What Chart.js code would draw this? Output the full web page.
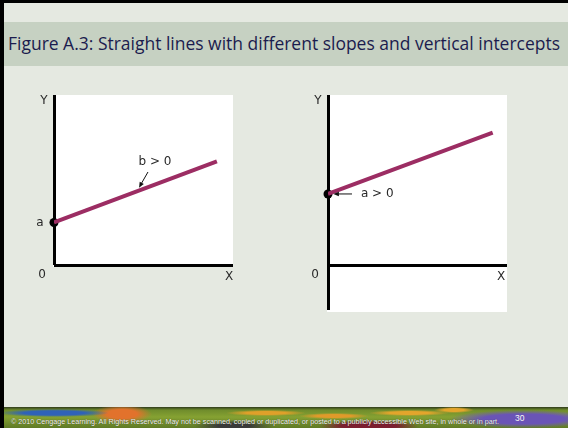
<!DOCTYPE html>
<html>
<head>
<meta charset="utf-8">
<script src="https://cdn.jsdelivr.net/npm/chart.js@4.4.0/dist/chart.umd.min.js"></script>
<style>
  html, body { margin: 0; padding: 0; }
  body { width: 568px; height: 428px; position: relative; overflow: hidden; background: #e5e9e1; }
  #frameTop { position: absolute; left: 0; top: 0; width: 568px; height: 3px; background: #000; }
  #frameLeft { position: absolute; left: 0; top: 0; width: 4px; height: 428px; background: #000; }
  #band { position: absolute; left: 4px; top: 22px; width: 564px; height: 44px; background: #c6d1c2; }
  #title { position: absolute; left: 8px; top: 35px; font-family: 'Open Sans', sans-serif; font-size: 17.5px;
           line-height: 17px; color: #1b1c4e; white-space: nowrap; transform-origin: 0 0; }
  .box { position: absolute; }
  #footer { position: absolute; left: 4px; top: 407px; width: 564px; height: 21px; overflow: hidden;
    background:
      radial-gradient(ellipse 55px 4px at 50px 6px, #2f62b8 55%, rgba(47,98,184,0) 100%),
      radial-gradient(ellipse 30px 9px at 118px 7px, #e2722c 50%, rgba(226,114,44,0) 100%),
      radial-gradient(ellipse 40px 3px at 262px 6px, #e0a02a 50%, rgba(224,160,42,0) 100%),
      radial-gradient(ellipse 35px 3px at 330px 9px, #e09a2a 50%, rgba(224,154,42,0) 100%),
      radial-gradient(ellipse 40px 3px at 405px 6px, #e3a52c 50%, rgba(227,165,44,0) 100%),
      radial-gradient(ellipse 20px 3px at 450px 3px, #e3a52c 50%, rgba(227,165,44,0) 100%),
      radial-gradient(ellipse 75px 9px at 520px 12px, #6a54b6 55%, rgba(106,84,182,0) 100%),
      radial-gradient(ellipse 50px 6px at 365px 19px, #7c1f30 55%, rgba(124,31,48,0) 100%),
      radial-gradient(ellipse 40px 6px at 230px 19px, #3a3a3a 40%, rgba(58,58,58,0) 100%),
      linear-gradient(#2f3a1c 0px, #6f8c2c 3px, #86a232 10px, #5f7a26 21px);
  }
  #copy { position: absolute; left: 7px; top: 10px; font-family: 'Liberation Sans', Arial, sans-serif;
          font-size: 7.8px; line-height: 9px; color: #f8f8f4; white-space: nowrap; transform-origin: 0 0;
          text-shadow: 0 0 1px rgba(0,0,0,0.7); }
  #page { position: absolute; left: 511px; top: 7px; font-family: 'Liberation Sans', Arial, sans-serif;
          font-size: 8.5px; line-height: 9px; color: #f8f8f4; }
</style>
</head>
<body>
<div id="frameTop"></div>
<div id="frameLeft"></div>
<div id="band"></div>
<div id="title">Figure A.3: Straight lines with different slopes and vertical intercepts</div>

<div class="box" style="left:20px; top:85px;"><canvas id="chartA" width="230" height="210"></canvas></div>
<div class="box" style="left:290px; top:85px;"><canvas id="chartB" width="230" height="240"></canvas></div>

<div id="footer">
  <div id="copy">© 2010 Cengage Learning. All Rights Reserved. May not be scanned, copied or duplicated, or posted to a publicly accessible Web site, in whole or in part.</div>
  <div id="page">30</div>
</div>

<script>
// left panel: line with positive slope b, intercept a
const lineXA = [0, 9.1];
const lineYA = [2.5, 6.1];
const rangeXA = [0, 10];
const rangeYA = [0, 10];

// right panel: same slope, positive intercept, y axis runs below zero
const lineXB = [0, 9.2];
const lineYB = [4.2, 7.8];
const rangeXB = [0, 10];
const rangeYB = [-2.6, 10];

const purple = '#9c2d63';
const labelFont = '12px "DejaVu Sans", sans-serif';

function toPoints(xs, ys) {
  return xs.map((x, i) => ({ x: x, y: ys[i] }));
}

// white plot area behind everything, notes and arrows on top
const sketchMarks = {
  id: 'sketchMarks',
  beforeDraw(chart) {
    const a = chart.chartArea, c = chart.ctx;
    c.save();
    c.fillStyle = '#fff';
    c.fillRect(a.left - 1, a.top, a.right - a.left + 1, a.bottom - a.top + 2);
    c.restore();
  },
  afterDraw(chart, args, opts) {
    const c = chart.ctx, sx = chart.scales.x, sy = chart.scales.y;
    c.save();
    c.font = labelFont;
    c.fillStyle = '#2a2a2a';
    c.textBaseline = 'middle';
    (opts.texts || []).forEach(t => {
      c.textAlign = t.align || 'center';
      c.fillText(t.text, sx.getPixelForValue(t.x) + (t.dx || 0), sy.getPixelForValue(t.y) + (t.dy || 0));
    });
    c.strokeStyle = '#111';
    c.fillStyle = '#111';
    c.lineWidth = 1;
    (opts.arrows || []).forEach(ar => {
      const x0 = sx.getPixelForValue(ar.from[0]), y0 = sy.getPixelForValue(ar.from[1]);
      const x1 = sx.getPixelForValue(ar.to[0]), y1 = sy.getPixelForValue(ar.to[1]);
      const ang = Math.atan2(y1 - y0, x1 - x0);
      c.beginPath();
      c.moveTo(x0, y0);
      c.lineTo(x1 - 3 * Math.cos(ang), y1 - 3 * Math.sin(ang));
      c.stroke();
      c.beginPath();
      c.moveTo(x1, y1);
      c.lineTo(x1 - 6 * Math.cos(ang - 0.4), y1 - 6 * Math.sin(ang - 0.4));
      c.lineTo(x1 - 6 * Math.cos(ang + 0.4), y1 - 6 * Math.sin(ang + 0.4));
      c.closePath();
      c.fill();
    });
    c.restore();
  }
};

function axisOnly(min, max) {
  return {
    type: 'linear', min: min, max: max,
    ticks: { display: false },
    border: { display: false },
    afterBuildTicks: s => { s.ticks = [{ value: 0 }]; },
    grid: {
      drawTicks: false, lineWidth: 3,
      color: ctx => (ctx.tick && ctx.tick.value === 0) ? '#000' : 'rgba(0,0,0,0)'
    }
  };
}

function makeChart(id, xs, ys, rx, ry, padding, notes) {
  return new Chart(document.getElementById(id), {
    type: 'scatter',
    data: {
      datasets: [{
        data: toPoints(xs, ys),
        showLine: true,
        borderColor: purple,
        borderWidth: 4,
        pointRadius: 0
      }, {
        data: toPoints([xs[0]], [ys[0]]),
        pointRadius: 4.5,
        pointBackgroundColor: '#000',
        pointBorderWidth: 0,
        clip: false
      }]
    },
    options: {
      responsive: false,
      animation: false,
      events: [],
      layout: { padding: padding },
      scales: { x: axisOnly(rx[0], rx[1]), y: axisOnly(ry[0], ry[1]) },
      plugins: { legend: { display: false }, tooltip: { enabled: false }, sketchMarks: notes }
    },
    plugins: [sketchMarks]
  });
}

makeChart('chartA', lineXA, lineYA, rangeXA, rangeYA,
  { left: 34, right: 17, top: 10, bottom: 30 },
  {
    texts: [
      { text: 'Y', x: 0, y: rangeYA[1], dx: -10, dy: 6 },
      { text: 'X', x: rangeXA[1], y: 0, dx: -4, dy: 12 },
      { text: '0', x: 0, y: 0, dx: -12, dy: 10 },
      { text: 'a', x: 0, y: lineYA[0], dx: -14, dy: 0 },
      { text: 'b > 0', x: 5.64, y: 6.06 }
    ],
    arrows: [{ from: [5.25, 5.47], to: [4.75, 4.55] }]
  });

makeChart('chartB', lineXB, lineYB, rangeXB, rangeYB,
  { left: 38, right: 13, top: 10, bottom: 15 },
  {
    texts: [
      { text: 'Y', x: 0, y: rangeYB[1], dx: -10, dy: 6 },
      { text: 'X', x: rangeXB[1], y: 0, dx: -6, dy: 11 },
      { text: '0', x: 0, y: 0, dx: -13, dy: 9 },
      { text: 'a > 0', x: 1.84, y: lineYB[0], align: 'left' }
    ],
    arrows: [{ from: [1.34, lineYB[0]], to: [0.3, lineYB[0]] }]
  });

// stretch the heading and footer line to their slide widths
function fitWidth(id, w) {
  const el = document.getElementById(id);
  const cur = el.getBoundingClientRect().width;
  el.style.transform = 'scaleX(' + (w / cur) + ')';
}
fitWidth('title', 552);
fitWidth('copy', 488);
</script>
</body>
</html>
